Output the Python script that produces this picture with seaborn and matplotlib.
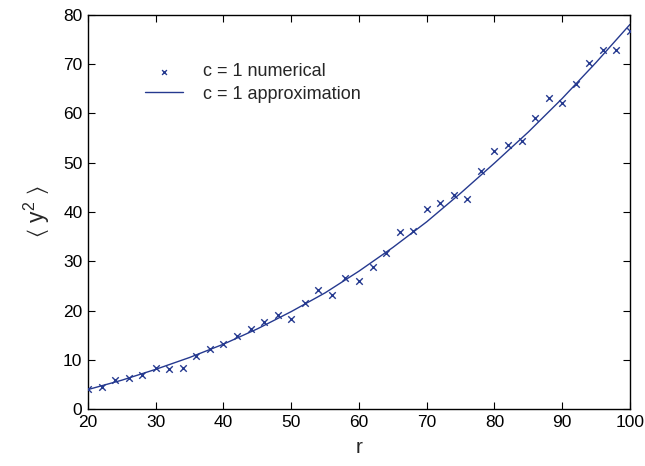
import numpy as np
import pandas as pd
import matplotlib
matplotlib.use("Agg")
import matplotlib.pyplot as plt
import seaborn as sns

# numerical data
r_num = [20, 22, 24, 26, 28, 30, 32, 34, 36, 38, 40, 42, 44, 46, 48, 50, 52, 54, 56, 58, 60,
         62, 64, 66, 68, 70, 72, 74, 76, 78, 80, 82, 84, 86, 88, 90, 92, 94, 96, 98, 100]
y_num = [4.2, 4.5, 5.9, 6.3, 7.0, 8.3, 8.2, 8.4, 10.8, 12.3, 13.3, 14.9, 16.3, 17.7, 19.1, 18.3,
         21.6, 24.1, 23.2, 26.6, 26.0, 28.8, 31.7, 36.0, 36.1, 40.5, 41.8, 43.4, 42.6, 48.3, 52.4,
         53.6, 54.4, 59.0, 63.0, 62.0, 66.0, 70.1, 72.8, 72.9, 76.7]

# approximation curve
r_app = [20, 25, 30, 35, 40, 45, 50, 55, 60, 65, 70, 75, 80, 85, 90, 95, 100]
y_app = [4.0, 5.9, 8.1, 10.5, 13.2, 16.3, 19.8, 23.6, 28.0, 32.8, 38.0, 43.8, 49.9, 56.2, 63.0, 70.3, 78.0]

x_ticks = [20, 30, 40, 50, 60, 70, 80, 90, 100]
y_ticks = [0, 10, 20, 30, 40, 50, 60, 70, 80]

sns.set_style("ticks")
plt.rcParams['font.family'] = ['Liberation Sans', 'DejaVu Sans']
plt.rcParams['mathtext.fontset'] = 'custom'
plt.rcParams['mathtext.rm'] = 'Liberation Sans'
plt.rcParams['mathtext.it'] = 'Liberation Sans'
plt.rcParams['mathtext.default'] = 'regular'

color = '#25398f'
fig = plt.figure(figsize=(6.45, 4.66), dpi=100)
ax = fig.add_axes([0.1364, 0.1217, 0.8403, 0.847])

df_num = pd.DataFrame({'r': r_num, 'y': y_num})
df_app = pd.DataFrame({'r': r_app, 'y': y_app})

sns.scatterplot(data=df_num, x='r', y='y', marker='x', s=22, color=color, linewidth=1.0,
                ax=ax, label='c = 1 numerical', zorder=3)
sns.lineplot(data=df_app, x='r', y='y', color=color, linewidth=1.0, ax=ax,
             label='c = 1 approximation', zorder=2)

ax.set_xlim(20, 100)
ax.set_ylim(0, 80)
ax.set_xticks(x_ticks)
ax.set_yticks(y_ticks)
ax.tick_params(direction='in', length=5, width=0.8, top=True, right=True,
               labelsize=12.5, colors='black', pad=4)
for s in ax.spines.values():
    s.set_linewidth(1.0)
    s.set_color('black')

ax.set_xlabel('r', fontsize=15, labelpad=6)
ax.set_ylabel(r'$\langle\ y^{2}\ \rangle$', fontsize=16.5, labelpad=8)

leg = ax.legend(loc='upper left', bbox_to_anchor=(0.092, 0.895), frameon=False,
                fontsize=13, handlelength=2.1, handletextpad=1.1, labelspacing=0.3,
                borderaxespad=0)
for h in leg.legend_handles:
    try:
        h.set_sizes([12])
    except Exception:
        pass

fig.savefig('out.png', dpi=100)
